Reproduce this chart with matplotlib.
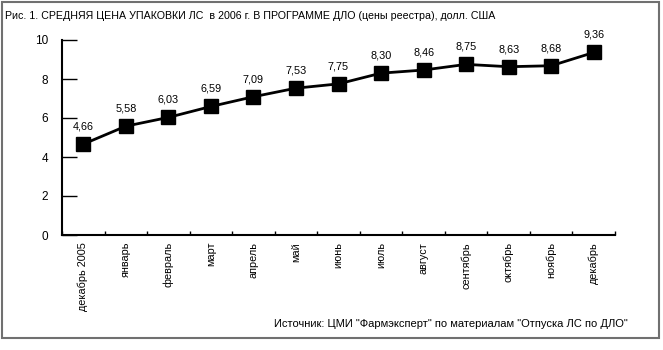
import matplotlib
matplotlib.use("Agg")
import matplotlib.pyplot as plt
from matplotlib.patches import Rectangle

plt.rcParams['font.family'] = ['Liberation Sans Narrow', 'Liberation Sans', 'DejaVu Sans']

months = ["декабрь 2005", "январь", "февраль", "март", "апрель", "май", "июнь",
          "июль", "август", "сентябрь", "октябрь", "ноябрь", "декабрь"]
prices = [4.66, 5.58, 6.03, 6.59, 7.09, 7.53, 7.75, 8.30, 8.46, 8.75, 8.63, 8.68, 9.36]
yticks = [0, 2, 4, 6, 8, 10]

title = "Рис. 1. СРЕДНЯЯ ЦЕНА УПАКОВКИ ЛС  в 2006 г. В ПРОГРАММЕ ДЛО (цены реестра), долл. США"
source = "Источник: ЦМИ \"Фармэксперт\" по материалам \"Отпуска ЛС по ДЛО\""

W, H = 663, 350
fig = plt.figure(figsize=(W / 100, H / 100), dpi=100)
# axes box in pixels: x 62..615, y(0)=235, y(10)=40
ax = fig.add_axes([62 / W, 1 - 235 / H, (615 - 62) / W, (235 - 40) / H])

x = list(range(len(months)))
ax.plot(x, prices, color='black', lw=2, marker='s', markersize=10, zorder=3)
for xi, v in zip(x, prices):
    ax.annotate(f"{v:.2f}".replace('.', ','), (xi, v), xytext=(0, 9),
                textcoords='offset points', ha='center', va='bottom', fontsize=7.8)

ax.set_xlim(-0.5, len(months) - 0.5)
ax.set_ylim(0, 10)
ax.set_yticks(yticks)
ax.set_yticklabels([str(t) for t in yticks], fontsize=8.5)
ax.tick_params(axis='y', direction='in', length=11, width=1, pad=10)

ax.set_xticks([i - 0.5 for i in range(len(months) + 1)], minor=False)
ax.set_xticklabels([])
ax.tick_params(axis='x', direction='in', length=3, width=1)
ax.set_xticks(x, minor=True)
ax.set_xticklabels(months, minor=True, rotation=90, fontsize=7.8, va='top')
ax.tick_params(axis='x', which='minor', length=0, pad=5)

for s in ['top', 'right']:
    ax.spines[s].set_visible(False)
ax.spines['left'].set_linewidth(1.5)
ax.spines['bottom'].set_linewidth(1.5)

fig.text(5 / W, 1 - 16 / H, title, fontsize=7.7, va='center', ha='left')
fig.text(628 / W, 1 - 324 / H, source, fontsize=8, va='center', ha='right')

fig.patches.append(Rectangle((2 / W, 1 - 338 / H), 657 / W, 336 / H,
                             transform=fig.transFigure, fill=False,
                             edgecolor='#707070', lw=1.5))

fig.savefig("out.png", dpi=100)
